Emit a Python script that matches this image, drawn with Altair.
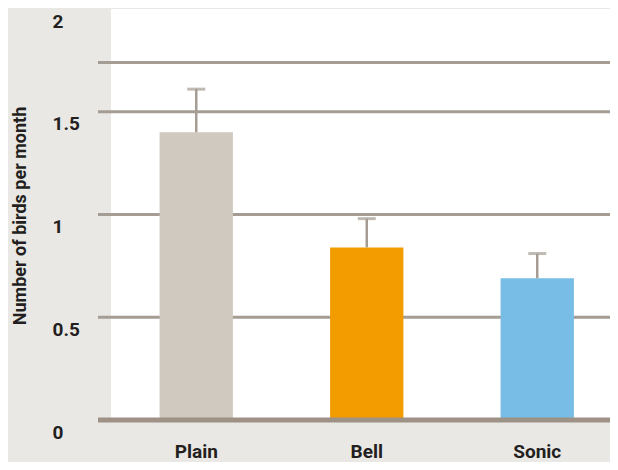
import altair as alt
import pandas as pd

categories = ["Plain", "Bell", "Sonic"]
means = [1.40, 0.84, 0.69]
upper = [1.61, 0.98, 0.81]
bar_colors = ["#d0c9c0", "#f39c00", "#77bde5"]
tick_values = [0, 0.5, 1, 1.5, 2]
grid_values = [0.5, 1, 1.5, 1.74]
y_title = "Number of birds per month"

FONT = "Roboto"
TXT = "#231f20"
GRID = "#a59c93"
W, H = 499, 411

df = pd.DataFrame({"cat": categories, "mean": means, "upper": upper})
grid_df = pd.DataFrame({"v": grid_values})
base_df = pd.DataFrame({"v": [0]})

yscale = alt.Scale(domain=[0, 2], nice=False, zero=True)
xscale = alt.Scale(domain=categories, range=[0, 511.5], paddingInner=0.57, paddingOuter=0.285)

yaxis = alt.Axis(values=tick_values, format="~g", grid=False, domain=False,
                 ticks=False, tickSize=0, labelAlign="left", labelPadding=59,
                 labelBaseline="alphabetic", labelOffset=18, labelFlush=False,
                 labelOverlap=False, labelBound=False,
                 labelFont=FONT, labelFontSize=19, labelFontWeight="bold",
                 labelColor=TXT,
                 title=y_title, titleFont=FONT, titleFontSize=18,
                 titleFontWeight="bold", titleColor=TXT, titleAngle=-90,
                 titleX=-91, titleY=H / 2 + 1, titleAlign="center",
                 titleBaseline="middle")
xaxis = alt.Axis(title=None, labelAngle=0, domain=False, ticks=False, tickSize=0,
                 labelFont=FONT, labelFontSize=19, labelFontWeight="bold",
                 labelColor=TXT, labelPadding=37, labelBaseline="alphabetic")

grid = alt.Chart(grid_df).mark_rule(color=GRID, strokeWidth=3).encode(
    y=alt.Y("v:Q", scale=yscale, axis=yaxis),
    x=alt.value(-13),
    x2=alt.value(W + 20),
)

bars = alt.Chart(df).mark_bar().encode(
    x=alt.X("cat:N", scale=xscale, sort=categories, axis=xaxis),
    y=alt.Y("mean:Q", scale=yscale, axis=yaxis),
    color=alt.Color("cat:N", scale=alt.Scale(domain=categories, range=bar_colors), legend=None),
)

err = alt.Chart(df).mark_rule(color=GRID, strokeWidth=2.5).encode(
    x=alt.X("cat:N", scale=xscale, sort=categories, axis=xaxis),
    y=alt.Y("mean:Q", scale=yscale, axis=yaxis),
    y2="upper:Q",
)

caps = alt.Chart(df).mark_tick(color=GRID, size=18, thickness=3, orient="horizontal").encode(
    x=alt.X("cat:N", scale=xscale, sort=categories, axis=xaxis),
    y=alt.Y("upper:Q", scale=yscale, axis=yaxis),
)

baseline = alt.Chart(base_df).mark_rule(color="#9e9186", strokeWidth=5).encode(
    y=alt.Y("v:Q", scale=yscale, axis=yaxis),
    x=alt.value(-13),
    x2=alt.value(W + 20),
)

chart = alt.layer(grid, bars, err, caps, baseline).properties(
    width=W,
    height=H,
    padding={"left": 103, "top": 1, "right": 0, "bottom": 42},
    autosize=alt.AutoSizeParams(type="none"),
    background="#eae8e5",
).configure_view(fill="white", strokeWidth=0)

chart.save("out.html", embed_options={"renderer": "svg", "actions": False})
